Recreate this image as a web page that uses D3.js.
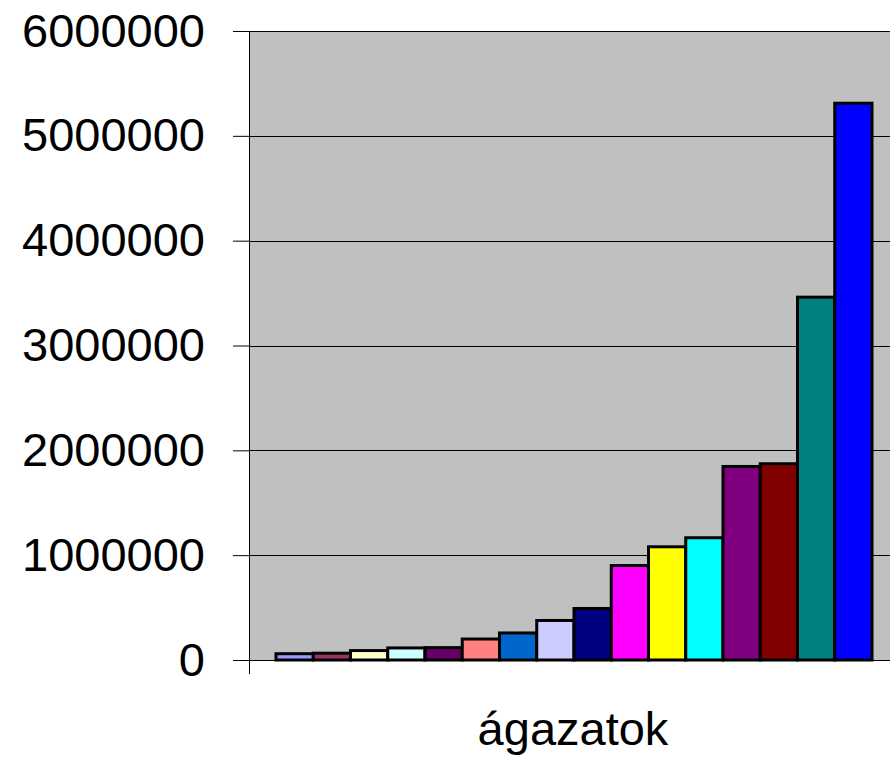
<!DOCTYPE html>
<html>
<head>
<meta charset="utf-8">
<script src="https://cdn.jsdelivr.net/npm/d3@7"></script>
<style>
  body { margin: 0; background: #fff; }
  svg text { font-family: "Liberation Sans", Arial, sans-serif; fill: #000; }
</style>
</head>
<body>
<div id="chart"></div>
<script>
// chart data
const CATEGORY = "ágazatok";
const SERIES = d3.range(1, 17).map(i => "s" + i);
const VALUES = [60000, 65000, 90000, 115000, 118000, 200000, 258000, 377000,
                491000, 901000, 1080000, 1166000, 1846000, 1872000, 3461000, 5311000];
const COLORS = ["#9999FF", "#993366", "#FFFFCC", "#CCFFFF", "#660066", "#FF8080",
                "#0066CC", "#CCCCFF", "#000080", "#FF00FF", "#FFFF00", "#00FFFF",
                "#800080", "#800000", "#008080", "#0000FF"];
const Y_TICKS = [0, 1000000, 2000000, 3000000, 4000000, 5000000, 6000000];

// page set up
const FRAME_WIDTH = 890;
const FRAME_HEIGHT = 757;
const MARGINS = {left: 249, top: 31};
const PLOT_WIDTH = 650;   // plot runs past the right edge of the picture
const PLOT_HEIGHT = 629;

const svg = d3.select("#chart")
  .append("svg")
  .attr("width", FRAME_WIDTH)
  .attr("height", FRAME_HEIGHT);

const g = svg.append("g")
  .attr("transform", "translate(" + MARGINS.left + "," + MARGINS.top + ")");

// scales
const X_CAT = d3.scaleBand()
  .domain([CATEGORY])
  .range([0, PLOT_WIDTH]);

const X_SCALE = d3.scaleBand()
  .domain(SERIES)
  .range([0, X_CAT.bandwidth()])
  .paddingInner(0)
  .paddingOuter(0.725);

const Y_SCALE = d3.scaleLinear()
  .domain([0, 6000000])
  .range([PLOT_HEIGHT, 0]);

// plot area background
g.append("rect")
  .attr("x", 0)
  .attr("y", 0)
  .attr("width", PLOT_WIDTH)
  .attr("height", PLOT_HEIGHT)
  .attr("fill", "#C0C0C0");

// gridlines
g.selectAll(".grid")
  .data(Y_TICKS.filter(d => d > 0))
  .enter()
  .append("line")
  .attr("x1", 0)
  .attr("x2", PLOT_WIDTH)
  .attr("y1", d => Math.round(Y_SCALE(d)) + 0.5)
  .attr("y2", d => Math.round(Y_SCALE(d)) + 0.5)
  .attr("stroke", "#000")
  .attr("stroke-width", 1);

// bars
g.selectAll(".bar")
  .data(VALUES)
  .enter()
  .append("rect")
  .attr("x", (d, i) => X_CAT(CATEGORY) + X_SCALE(SERIES[i]))
  .attr("y", d => Y_SCALE(d))
  .attr("width", X_SCALE.bandwidth())
  .attr("height", d => PLOT_HEIGHT - Y_SCALE(d))
  .attr("fill", (d, i) => COLORS[i])
  .attr("stroke", "#000")
  .attr("stroke-width", 3);

// y axis
const yAxis = g.append("g")
  .call(d3.axisLeft(Y_SCALE)
    .tickValues(Y_TICKS)
    .tickSize(16)
    .tickSizeOuter(0)
    .tickPadding(28)
    .tickFormat(d3.format("d")));
yAxis.select(".domain").remove();
yAxis.selectAll("line").attr("stroke", "#000");
yAxis.selectAll("text")
  .attr("font-size", "47px")
  .attr("font-family", "'Liberation Sans', Arial, sans-serif");

// axis lines
g.append("line")
  .attr("x1", 0.5).attr("x2", 0.5)
  .attr("y1", 0).attr("y2", PLOT_HEIGHT + 14)
  .attr("stroke", "#000");
g.append("line")
  .attr("x1", -16).attr("x2", PLOT_WIDTH)
  .attr("y1", PLOT_HEIGHT + 0.5).attr("y2", PLOT_HEIGHT + 0.5)
  .attr("stroke", "#000");

// category label
g.append("text")
  .attr("x", X_CAT(CATEGORY) + X_CAT.bandwidth() / 2 - 1)
  .attr("y", PLOT_HEIGHT + 85)
  .attr("text-anchor", "middle")
  .attr("font-size", "47px")
  .text(CATEGORY);
</script>
</body>
</html>
